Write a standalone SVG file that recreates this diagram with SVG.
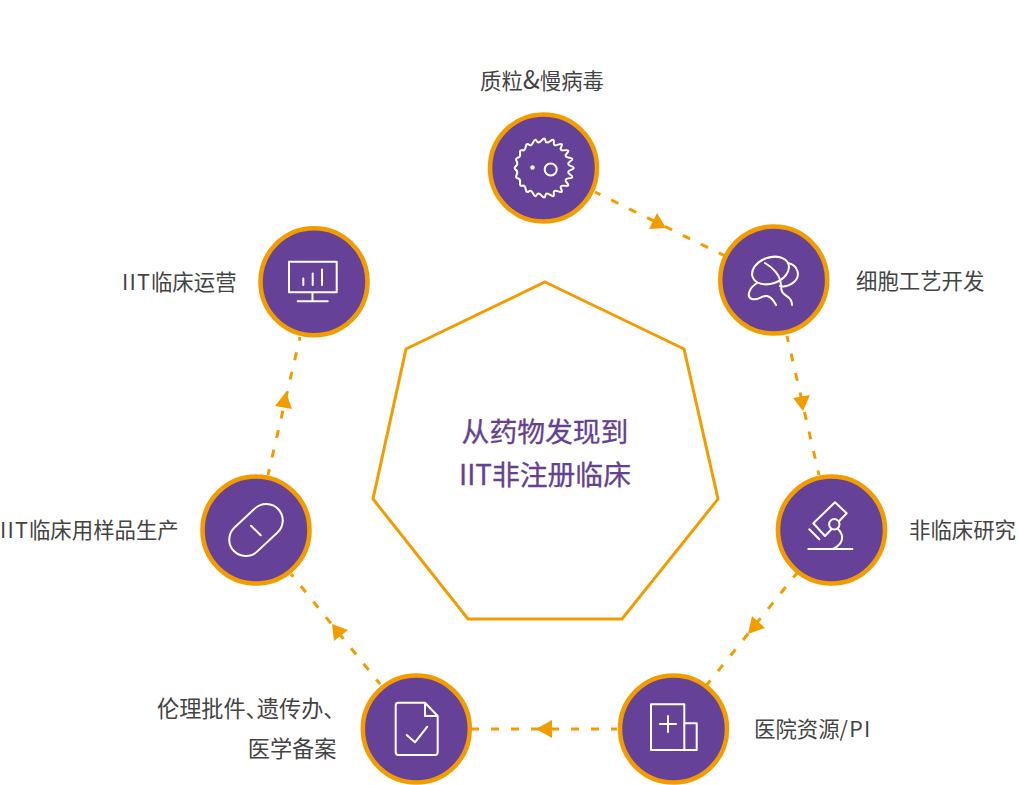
<svg xmlns="http://www.w3.org/2000/svg" width="1019" height="785" viewBox="0 0 1019 785">
<style>
text{font-family:"Noto Sans CJK SC","Noto Sans",sans-serif}
.lbl{font-size:21.4px;font-weight:400;fill:#444}
.big{font-size:22.2px;font-feature-settings:"palt"}
.ttl{font-size:27.8px;font-weight:400;fill:#64428f;text-anchor:middle;stroke:#64428f;stroke-width:.3}
.sp{letter-spacing:1.2px}
.disc{fill:#654298;stroke:#f39c00;stroke-width:4.6}
.ico{fill:none;stroke:#fff;stroke-width:2;stroke-linejoin:round;stroke-linecap:round}
.dash{fill:none;stroke:#f39c00;stroke-width:3;stroke-dasharray:8 12;stroke-dashoffset:2}
.head{fill:#f39c00}
</style>
<rect width="1019" height="785" fill="#fff"/>
<g id="center">
<polygon points="545,282 684,349 718,499 622,619 468,619 373,499 406,349" fill="none" stroke="#f39c00" stroke-width="3"/>
<text class="ttl" x="545" y="442">从药物发现到</text>
<text class="ttl" x="545" y="485">IIT非注册临床</text>
</g>
<g id="connectors">
<line class="dash" x1="595" y1="192" x2="725" y2="256"/>
<polygon class="head" points="657,213 649,229 666,228"/>
<line class="dash" x1="787" y1="336" x2="819" y2="475"/>
<polygon class="head" points="793,398 810,395 803,411"/>
<line class="dash" x1="797" y1="573" x2="706" y2="686"/>
<polygon class="head" points="752,616 765,628 748,634"/>
<line class="dash" x1="617" y1="729" x2="472" y2="729"/>
<polygon class="head" points="536,729 552,720 552,738"/>
<line class="dash" x1="380" y1="684" x2="291" y2="574"/>
<polygon class="head" points="332,624 348,630 334,641"/>
<line class="dash" x1="268" y1="475" x2="300" y2="337"/>
<polygon class="head" points="286,392 275,406 292,409"/>
</g>
<g id="node-plasmid">
<circle class="disc" cx="543.5" cy="168" r="53.5"/>
<path class="ico" transform="translate(543.5 168)" d="M27.6,-1.88Q33,0 27.6,1.88T26.83,6.74T25.67,10.32T23.43,14.7T21.23,17.74T17.74,21.23T14.7,23.43T10.32,25.67T6.74,26.83T1.88,27.6T-1.88,27.6T-6.74,26.83T-10.32,25.67T-14.7,23.43T-17.74,21.23T-21.23,17.74T-23.43,14.7T-25.67,10.32T-26.83,6.74T-27.6,1.88T-27.6,-1.88T-26.83,-6.74T-25.67,-10.32T-23.43,-14.7T-21.23,-17.74T-17.74,-21.23T-14.7,-23.43T-10.32,-25.67T-6.74,-26.83T-1.88,-27.6T1.88,-27.6T6.74,-26.83T10.32,-25.67T14.7,-23.43T17.74,-21.23T21.23,-17.74T23.43,-14.7T25.67,-10.32T26.83,-6.74T27.6,-1.88Z"/>
<circle class="ico" cx="550.7" cy="169.5" r="6"/>
<circle cx="532.5" cy="167.5" r="2.2" fill="#fff"/>
<text class="lbl" x="480" y="89">质粒<tspan font-size="25">&amp;</tspan>慢病毒</text>
</g>
<g id="node-cell">
<circle class="disc" cx="773.7" cy="280" r="53.5"/>
<ellipse class="ico" cx="770.5" cy="270.5" rx="19" ry="13" transform="rotate(-20 770.5 270.5)"/>
<path class="ico" d="M788 263C798 265 801 276 794 282C790 286 784 287 780 286M765 263C772 267 781 275 781 286C781 293 784 294 788 297C792 300 792 303 792 305M757 283C749 288 746 297 752 299C758 301 762 295 767 296C771 297 774 301 776 305"/>
<text class="lbl" x="856" y="289">细胞工艺开发</text>
</g>
<g id="node-research">
<circle class="disc" cx="831.5" cy="530" r="53.5"/>
<polygon class="ico" points="835,502.3 846.7,513.3 825,536 813.3,523.3"/>
<circle class="ico" cx="834.3" cy="524.3" r="5.2" style="fill:#654298"/>
<path class="ico" d="M838 529C845 536 843 544 833 549M808.3 549H852.3M809.3 529.3L819.3 539.3"/>
<text class="lbl" x="909" y="538">非临床研究</text>
</g>
<g id="node-hospital">
<circle class="disc" cx="673.5" cy="729" r="53.5"/>
<path class="ico" d="M651 704.3H684.3V750H651ZM684.3 723.3H696.7V750H684.3ZM660 724H676M668 716V732"/>
<text class="lbl" x="754" y="737">医院资源<tspan class="sp">/PI</tspan></text>
</g>
<g id="node-ethics">
<circle class="disc" cx="416.3" cy="729" r="53.5"/>
<path class="ico" d="M398 702.7H425L437.7 716V752Q437.7 755 435 755H398.5Q395.7 755 395.7 752V705.5Q395.7 702.7 398 702.7ZM425 702.7V716H437.7M406.7 735L415 742.3L427.3 726.7"/>
<text class="lbl big" x="157" y="717">伦理批件、遗传办、</text>
<text class="lbl big" x="336.5" y="757" text-anchor="end">医学备案</text>
</g>
<g id="node-production">
<circle class="disc" cx="256" cy="530" r="53.5"/>
<rect class="ico" x="225.5" y="513.5" width="61" height="33" rx="16.5" transform="rotate(-43 256 530)"/>
<path class="ico" d="M251 525.7L260.7 535.3"/>
<text class="lbl" x="0" y="538"><tspan class="sp">IIT</tspan>临床用样品生产</text>
</g>
<g id="node-operation">
<circle class="disc" cx="314" cy="281.7" r="53.5"/>
<path class="ico" d="M289 261.7H336.7V292.3H289ZM312.5 292.3V301.3M297.7 301.3H327.7M303.3 278.5V285M312.7 273.5V285M322 269.5V285"/>
<text class="lbl" x="122" y="290"><tspan class="sp">IIT</tspan>临床运营</text>
</g>
</svg>
